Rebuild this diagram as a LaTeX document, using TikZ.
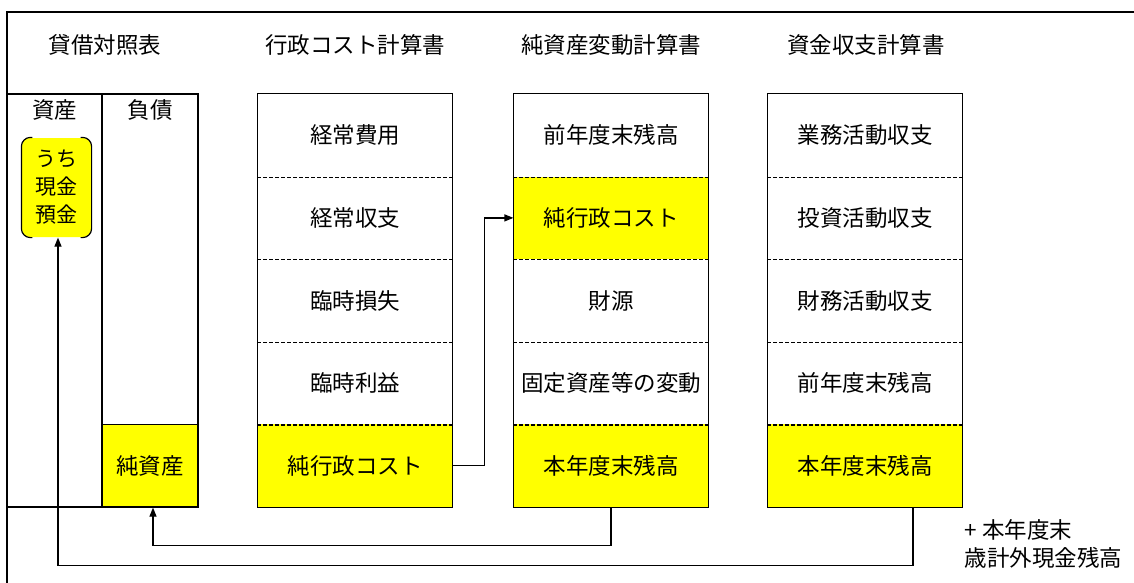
\documentclass[tikz,border=0pt]{standalone}
\usepackage{fontspec}
\newfontfamily\jp{Noto Sans CJK JP}
\usetikzlibrary{arrows.meta,positioning}
\definecolor{cellyellow}{RGB}{255,255,0}
\tikzset{
  cell/.style={minimum width=194pt,minimum height=82.6pt,inner sep=0pt,font=\jp\fontsize{22.5}{26}\selectfont},
  hi/.style={fill=cellyellow},
  title/.style={inner sep=0pt,font=\jp\fontsize{22.5}{28}\selectfont},
  sep/.style={dashed,dash pattern=on 4pt off 2pt},
  cashbox/.style={fill=cellyellow,rounded corners=8pt,minimum width=69pt,minimum height=99pt,inner sep=0pt,align=center,font=\jp\fontsize{21}{28}\selectfont},
}

\begin{document}
\begin{tikzpicture}[x=1pt,y=-1pt,line width=1.2pt,>={Triangle[length=9pt,width=7pt]}]
          \useasboundingbox (0,0) rectangle (1134,583);
          \draw (1134,12) -- (7,12) -- (7,583);
          \node[title] (bstitle) at (105,45) {貸借対照表};
          \node[title] (pltitle) at (355,45) {行政コスト計算書};
          \node[title] (nctitle) at (611,45) {純資産変動計算書};
          \node[title] (cftitle) at (866,45) {資金収支計算書};
          \node[draw,minimum width=95pt,minimum height=413pt,inner sep=0pt] (asset) at (54.5,300.5) {};
          \node[draw,minimum width=96pt,minimum height=413pt,inner sep=0pt] (liab) at (150,300.5) {};
          \node[title,below=6pt of asset.north] (assethead) {資産};
          \node[title,below=6pt of liab.north] (liabhead) {負債};
          \node[cell,hi,draw,minimum width=96pt] (na) at (150,465.7) {純資産};
          \node[cashbox] (cash) at (56.5,187.5) {うち\\現金\\預金};
          \draw[rounded corners=9pt] ([xshift=11pt]cash.north west) -| (cash.south west) -- ++(11,0);
          \draw[rounded corners=9pt] ([xshift=-11pt]cash.north east) -| (cash.south east) -- ++(-11,0);
          \node[cell] (pl1) at (355,135.3) {経常費用};
          \node[cell] (pl2) at (355,217.9) {経常収支};
          \node[cell] (pl3) at (355,300.5) {臨時損失};
          \node[cell] (pl4) at (355,383.1) {臨時利益};
          \node[cell,hi] (pl5) at (355,465.7) {純行政コスト};
          \node[cell] (nc1) at (611,135.3) {前年度末残高};
          \node[cell,hi] (nc2) at (611,217.9) {純行政コスト};
          \node[cell] (nc3) at (611,300.5) {財源};
          \node[cell] (nc4) at (611,383.1) {固定資産等の変動};
          \node[cell,hi] (nc5) at (611,465.7) {本年度末残高};
          \node[cell] (cf1) at (865,135.3) {業務活動収支};
          \node[cell] (cf2) at (865,217.9) {投資活動収支};
          \node[cell] (cf3) at (865,300.5) {財務活動収支};
          \node[cell] (cf4) at (865,383.1) {前年度末残高};
          \node[cell,hi] (cf5) at (865,465.7) {本年度末残高};
          \draw (pl1.north west) rectangle (pl5.south east);
          \draw (nc1.north west) rectangle (nc5.south east);
          \draw (cf1.north west) rectangle (cf5.south east);
          \draw[sep] (pl1.south west) -- (pl1.south east) (pl2.south west) -- (pl2.south east) (pl3.south west) -- (pl3.south east) (pl4.south west) -- (pl4.south east);
          \draw[sep] (nc1.south west) -- (nc1.south east) (nc2.south west) -- (nc2.south east) (nc3.south west) -- (nc3.south east) (nc4.south west) -- (nc4.south east);
          \draw[sep] (cf1.south west) -- (cf1.south east) (cf2.south west) -- (cf2.south east) (cf3.south west) -- (cf3.south east) (cf4.south west) -- (cf4.south east);
          \draw[->] (pl5.east) -- ++(32,0) |- (nc2.west);
          \draw[->] (nc5.south) -- ++(0,38) -| ([xshift=3pt]na.south);
          \draw[->] ([xshift=48pt]cf5.south) -- ++(0,58) -| ([xshift=1.5pt]cash.south);
          \node[title,align=left,anchor=west] (note) at (964,544) {+ 本年度末\\歳計外現金残高};
        \end{tikzpicture}
\end{document}
